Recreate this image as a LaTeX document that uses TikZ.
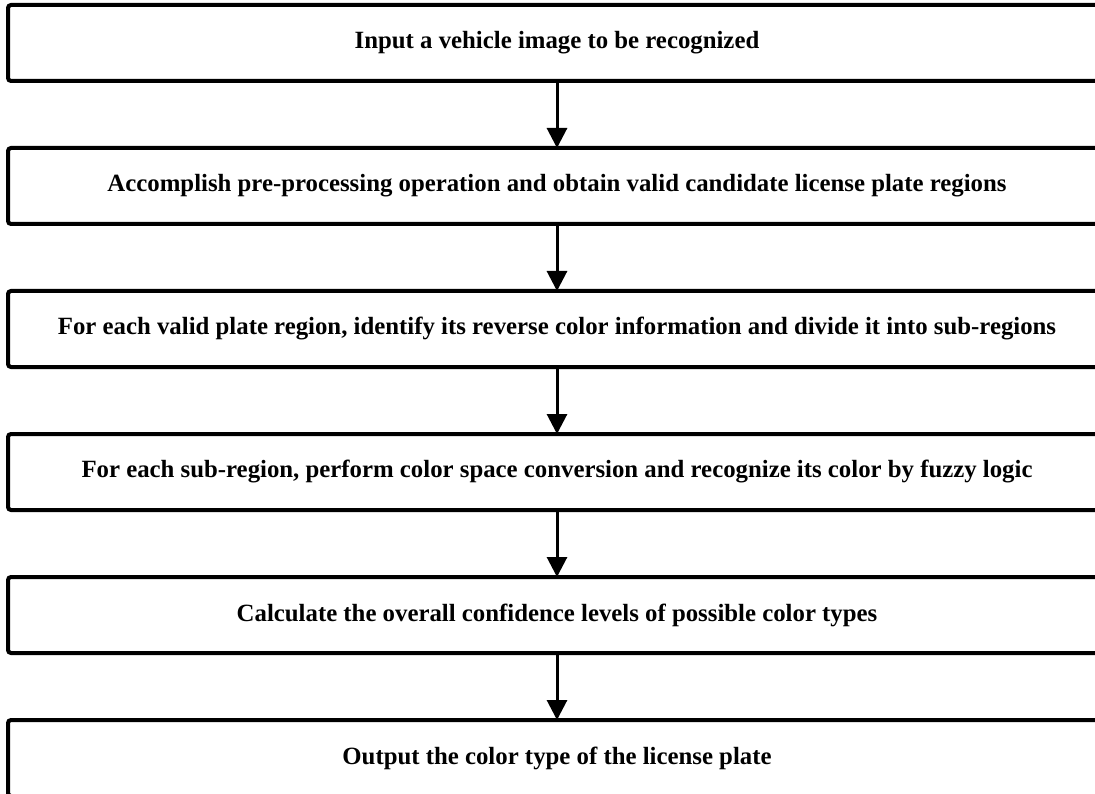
\documentclass[tikz,border=0pt]{standalone}
\usepackage{fontspec}
\setmainfont{Liberation Serif}
\usepackage{tikz}
\usetikzlibrary{arrows.meta,positioning}
\tikzset{
  ar/.style={-{Triangle[length=20pt,width=20pt]},line width=3pt,black},
  stepbox/.style={draw=black,line width=4pt,rounded corners=3pt,outer sep=0pt,
    minimum width=1098pt,minimum height=76pt,inner sep=0pt,align=center,
    font=\fontsize{24.8}{29}\selectfont\bfseries}
}

\begin{document}
\begin{tikzpicture}[x=1pt,y=1pt]
\useasboundingbox (0,0) rectangle (1095,-794);
\clip (0,0) rectangle (1095,-794);
\node[stepbox] (in) at (557,-43) {Input a vehicle image to be recognized};
\node[stepbox,below=67pt of in] (pre) {Accomplish pre-processing operation and obtain valid candidate license plate regions};
\node[stepbox,below=67pt of pre] (rev) {For each valid plate region, identify its reverse color information and divide it into sub-regions};
\node[stepbox,below=67pt of rev] (fuz) {For each sub-region, perform color space conversion and recognize its color by fuzzy logic};
\node[stepbox,below=67pt of fuz] (conf) {Calculate the overall confidence levels of possible color types};
\node[stepbox,below=67pt of conf] (out) {Output the color type of the license plate};
\draw[ar] (in) -- (pre);
\draw[ar] (pre) -- (rev);
\draw[ar] (rev) -- (fuz);
\draw[ar] (fuz) -- (conf);
\draw[ar] (conf) -- (out);
\end{tikzpicture}
\end{document}
